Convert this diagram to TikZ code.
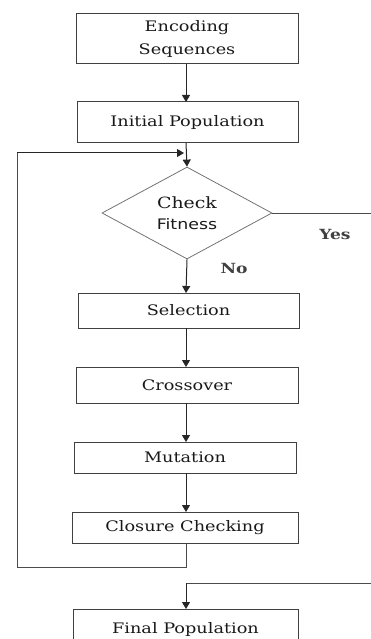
\documentclass[tikz,border=0pt]{standalone}
\usepackage{fontspec}
\setmainfont[FakeStretch=1.22]{DejaVu Serif}
\newfontfamily\labsans[FakeStretch=1.2]{DejaVu Sans}
\usetikzlibrary{arrows.meta,shapes.geometric}
\definecolor{boxline}{gray}{0.25}
\definecolor{dialine}{gray}{0.45}
\tikzset{
  flowbox/.style={draw=boxline, line width=1pt, rectangle, inner sep=0pt, font=\fontsize{14.5}{15}\selectfont, text=black!90},
  decis/.style={draw=dialine, line width=0.8pt, diamond, shape aspect=1.85, inner sep=0pt, minimum width=170pt, minimum height=92pt, align=center, font=\fontsize{15.5}{21}\selectfont, text=black!90},
  flow/.style={draw=black!85, line width=1pt, -{Triangle[width=8pt,length=7pt]}},
  plainline/.style={draw=black!70, line width=1pt},
  lab/.style={font=\fontsize{14}{14}\selectfont\bfseries, text=black!75}
}
\begin{document}
\begin{tikzpicture}[x=1pt,y=-1pt]
\useasboundingbox (0,0) rectangle (371,639);
\node[flowbox, minimum width=222pt, minimum height=50pt, align=center, font=\fontsize{14.5}{23}\selectfont] (enc) at (187,39) {Encoding\\Sequences};
\node[flowbox, minimum width=221pt, minimum height=41pt] (init) at (187.5,122.5) {Initial Population};
\node[decis] (dia) at (187,213) {Check\\{\labsans\fontsize{14.5}{21}\selectfont Fitness}};
\node[flowbox, minimum width=221pt, minimum height=35pt] (sel) at (188.5,310.5) {Selection};
\node[flowbox, minimum width=222pt, minimum height=36pt] (cro) at (187,385) {Crossover};
\node[flowbox, minimum width=222pt, minimum height=31pt] (mut) at (185,457.5) {Mutation};
\node[flowbox, minimum width=226pt, minimum height=31pt] (clo) at (185,527.5) {Closure Checking};
\node[flowbox, minimum width=225pt, minimum height=40pt] (fin) at (185.5,629) {Final Population};
\node[lab] (yes) at (335,234) {Yes};
\node[lab] (no) at (234,268) {No};
\coordinate (lpA) at (186,567);
\coordinate (lpB) at (17,567);
\coordinate (lpC) at (17,153);
\coordinate (lpD) at (184,153);
\coordinate (yesEnd) at (372,213);
\coordinate (finA) at (372,583);
\coordinate (finB) at (186,583);
\draw[flow] (186,64) -- (186,102);
\draw[flow] (186,143) -- (dia.north);
\draw[flow] (dia.south) -- (186,293);
\draw[flow] (186,328) -- (186,367);
\draw[flow] (186,403) -- (186,442);
\draw[flow] (186,473) -- (186,512);
\draw[plainline] (186,543) -- (lpA) -- (lpB) -- (lpC);
\draw[flow] (lpC) -- (lpD);
\draw[plainline] (dia.east) -- (yesEnd);
\draw[plainline] (finA) -- (finB);
\draw[flow] (finB) -- (186,609);
\end{tikzpicture}
\end{document}
